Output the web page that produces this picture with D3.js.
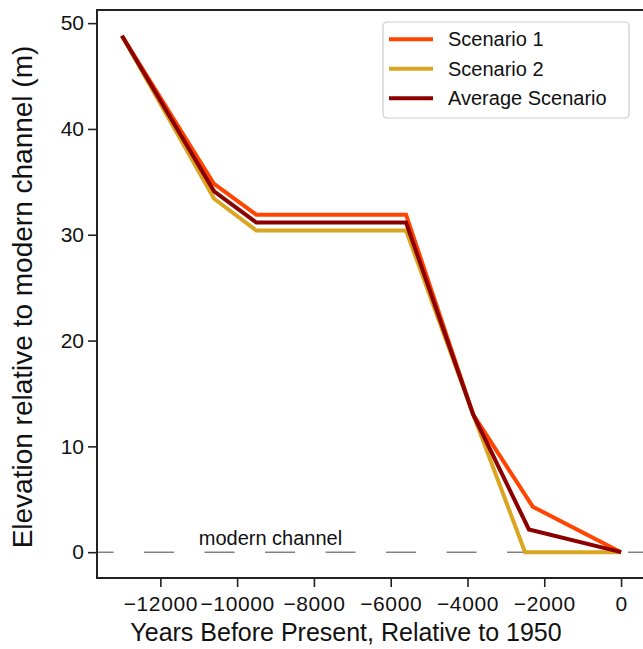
<!DOCTYPE html>
<html>
<head>
<meta charset="utf-8">
<script src="https://cdn.jsdelivr.net/npm/d3@7"></script>
<style>
  body { margin: 0; background: #fff; }
  svg { display: block; font-family: "Liberation Sans", Arial, sans-serif; }
</style>
</head>
<body>
<div id="chart"></div>
<script>
// Terrace elevation profiles
const yearsS1 = [-13000, -10600, -9500, -5600, -3850, -2300, 0];
const elevS1 = [48.8, 34.8, 31.9, 31.9, 13.0, 4.3, 0];
const yearsS2 = [-13000, -10600, -9500, -5600, -3850, -2500, 0];
const elevS2 = [48.8, 33.4, 30.4, 30.4, 13.0, 0, 0];
const yearsAvg = [-13000, -10600, -9500, -5600, -3850, -2400, 0];
const elevAvg = [48.8, 34.1, 31.15, 31.15, 13.0, 2.15, 0];

const seriesNames = ["Scenario 1", "Scenario 2", "Average Scenario"];
const xTicks = [-12000, -10000, -8000, -6000, -4000, -2000, 0];
const yTicks = [0, 10, 20, 30, 40, 50];

const colors = ["#ff4500", "#daa520", "#8b0000"];

const width = 643, height = 649;
const margin = { left: 97, top: 10, right: -3, bottom: 71 };

const series = [
    { name: seriesNames[0], pts: yearsS1.map((x, i) => [x, elevS1[i]]), color: colors[0] },
    { name: seriesNames[1], pts: yearsS2.map((x, i) => [x, elevS2[i]]), color: colors[1] },
    { name: seriesNames[2], pts: yearsAvg.map((x, i) => [x, elevAvg[i]]), color: colors[2] }
];

const x = d3.scaleLinear().domain([-13650, 650]).range([margin.left, width - margin.right]);
const y = d3.scaleLinear().domain([-2.44, 51.24]).range([height - margin.bottom, margin.top]);

const svg = d3.select("#chart").append("svg")
    .attr("width", width)
    .attr("height", height);

svg.append("defs").append("clipPath").attr("id", "plotclip")
    .append("rect")
    .attr("x", margin.left).attr("y", margin.top)
    .attr("width", width - margin.right - margin.left)
    .attr("height", height - margin.bottom - margin.top);

// modern channel reference line
svg.append("line")
    .attr("clip-path", "url(#plotclip)")
    .attr("x1", x(-14000)).attr("x2", x(1000))
    .attr("y1", y(0)).attr("y2", y(0))
    .attr("stroke", "#444")
    .attr("stroke-width", 1)
    .attr("stroke-dasharray", "30,30.5");

svg.append("text")
    .attr("x", x(-11000))
    .attr("y", y(0) - 7)
    .attr("font-size", 20)
    .attr("fill", "#111")
    .text("modern channel");

const line = d3.line().x(d => x(d[0])).y(d => y(d[1]));

svg.append("g").attr("clip-path", "url(#plotclip)")
    .selectAll("path")
    .data(series)
    .join("path")
    .attr("d", d => line(d.pts))
    .attr("fill", "none")
    .attr("stroke", d => d.color)
    .attr("stroke-width", 4)
    .attr("stroke-linejoin", "miter");

// axes
const fmt = d => d < 0 ? "\u2212" + Math.abs(d) : String(d);

const xAxis = svg.append("g")
    .attr("transform", `translate(0,${height - margin.bottom})`)
    .call(d3.axisBottom(x).tickValues(xTicks).tickFormat(fmt).tickSize(9).tickSizeOuter(0));
const yAxis = svg.append("g")
    .attr("transform", `translate(${margin.left},0)`)
    .call(d3.axisLeft(y).tickValues(yTicks).tickFormat(fmt).tickSize(9).tickSizeOuter(0));

[xAxis, yAxis].forEach(g => {
    g.select(".domain").remove();
    g.selectAll(".tick line").attr("stroke", "#222").attr("stroke-width", 1.6);
    g.selectAll(".tick text").attr("font-size", 21).attr("fill", "#111")
        .attr("font-family", "\"Liberation Sans\", Arial, sans-serif");
});
xAxis.selectAll(".tick text").attr("dy", "1.0em").attr("letter-spacing", 0.6);
yAxis.selectAll(".tick text").attr("x", -13);

// frame
svg.append("rect")
    .attr("x", margin.left).attr("y", margin.top)
    .attr("width", width - margin.right - margin.left)
    .attr("height", height - margin.bottom - margin.top)
    .attr("fill", "none")
    .attr("stroke", "#222")
    .attr("stroke-width", 2);

// axis labels
svg.append("text")
    .attr("x", 346)
    .attr("y", 641)
    .attr("text-anchor", "middle")
    .attr("font-size", 25)
    .attr("fill", "#111")
    .text("Years Before Present, Relative to 1950");

svg.append("text")
    .attr("transform", `translate(32,${(margin.top + height - margin.bottom) / 2 + 3}) rotate(-90)`)
    .attr("text-anchor", "middle")
    .attr("font-size", 28)
    .attr("fill", "#111")
    .text("Elevation relative to modern channel (m)");

// legend
const legend = svg.append("g").attr("transform", "translate(383,22)");
legend.append("rect")
    .attr("width", 246).attr("height", 96)
    .attr("rx", 4)
    .attr("fill", "#fff")
    .attr("fill-opacity", 0.8)
    .attr("stroke", "#ccc")
    .attr("stroke-width", 1.2);

const rows = legend.selectAll("g.row")
    .data(series)
    .join("g")
    .attr("class", "row")
    .attr("transform", (d, i) => `translate(0,${17.3 + i * 29.5})`);
rows.append("line")
    .attr("x1", 6).attr("x2", 50)
    .attr("stroke", d => d.color)
    .attr("stroke-width", 4);
rows.append("text")
    .attr("x", 65).attr("y", 7)
    .attr("font-size", 20)
    .attr("fill", "#111")
    .text(d => d.name);
</script>
</body>
</html>
